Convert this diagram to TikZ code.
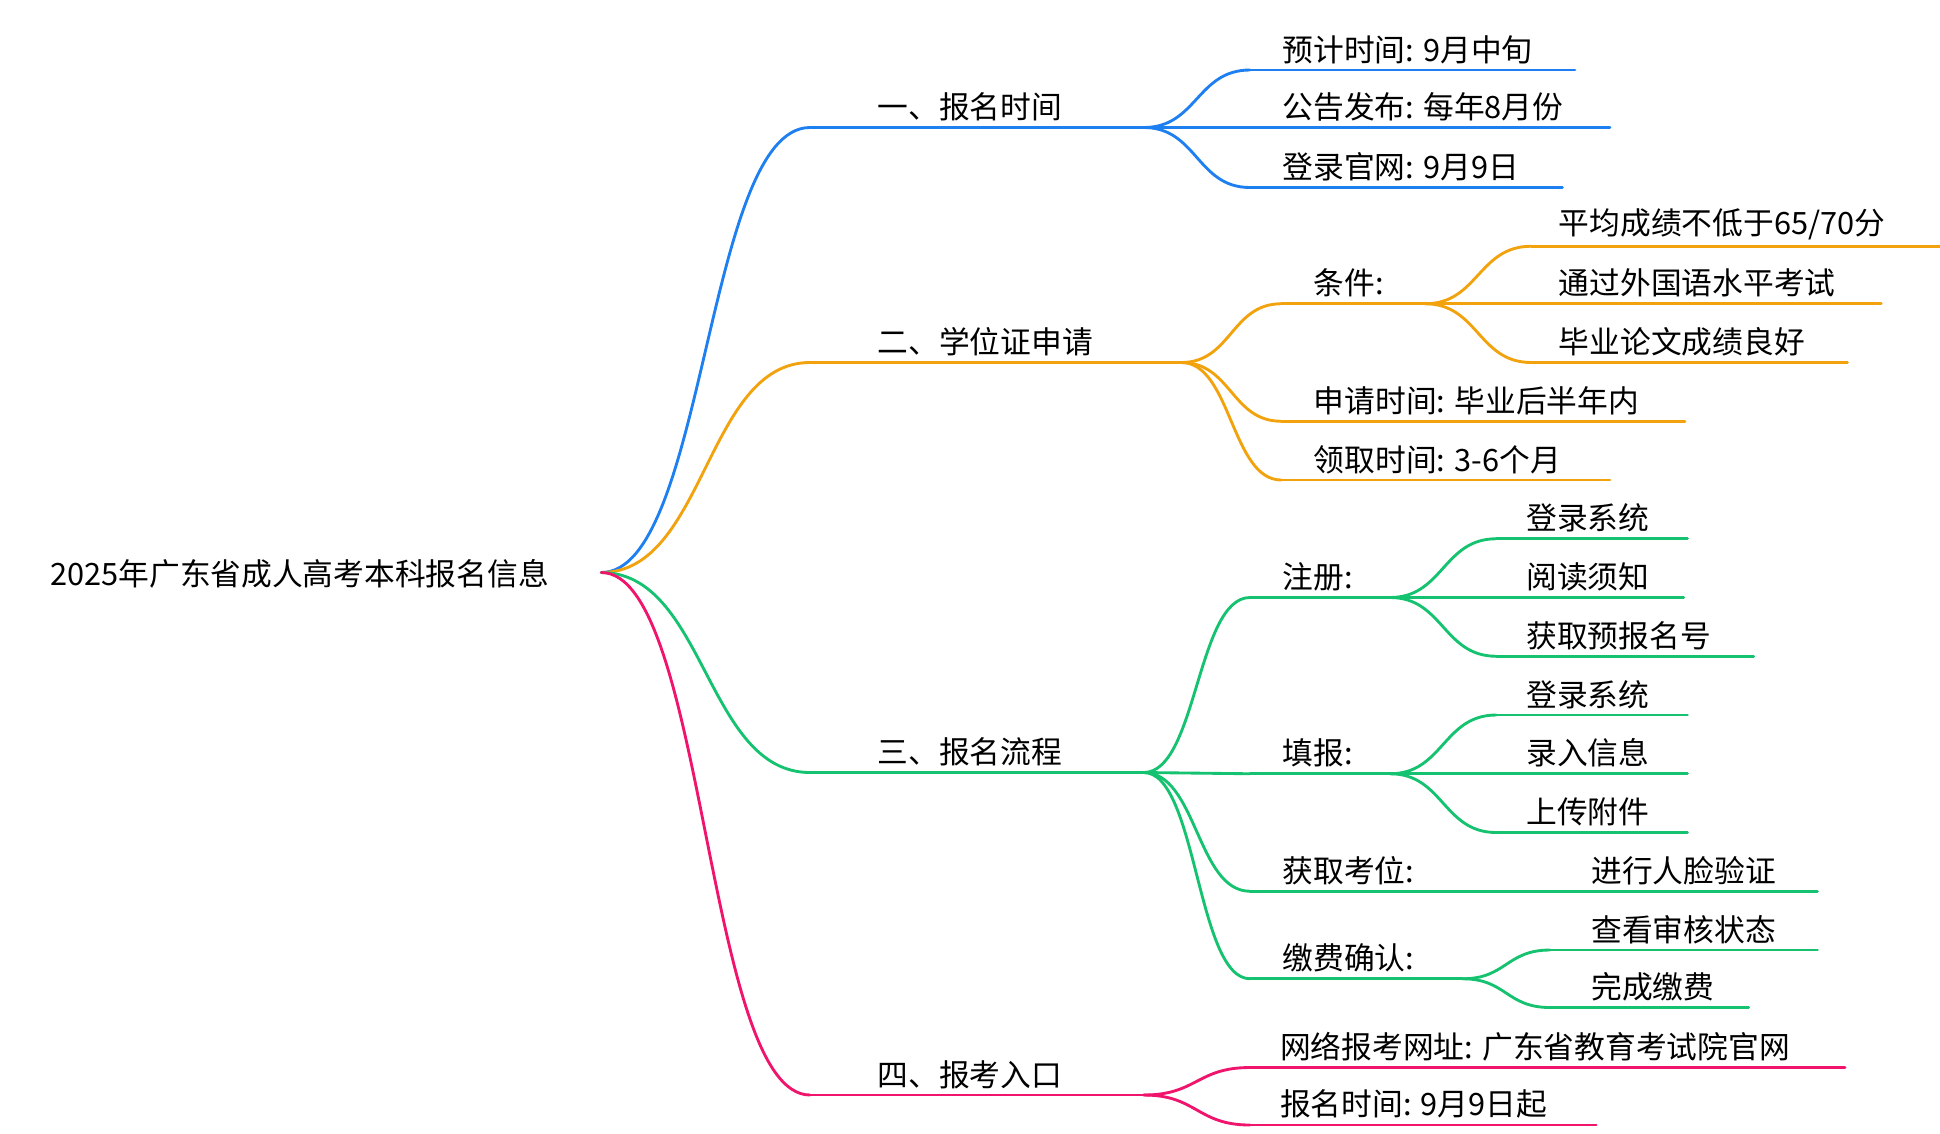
\documentclass[tikz,border=0pt]{standalone}
\usepackage{fontspec}
\setmainfont{Noto Sans CJK SC}
\usetikzlibrary{calc}
\definecolor{cblue}{HTML}{1E80F0}
\definecolor{corange}{HTML}{F2A20C}
\definecolor{cgreen}{HTML}{14C270}
\definecolor{cpink}{HTML}{F0146C}
% S-shaped connector with both controls at the horizontal middle
\newcommand\conn[3]{\draw[#1] let \p1=(#2), \p2=(#3) in
  (#2) .. controls ({0.5*\x1+0.5*\x2},\y1) and ({0.5*\x1+0.5*\x2},\y2) .. (#3);}
\tikzset{
  lbl/.style={anchor=south west, inner sep=1pt, font=\fontsize{14}{16}\selectfont},
  wire/.style={line width=1.3pt, line cap=round},
}

\begin{document}
\begin{tikzpicture}[x=0.02cm, y=-0.02cm]
		\useasboundingbox (0,0) rectangle (1552,907);
		
		\node[anchor=west, font=\fontsize{14}{16}\selectfont] (root) at (34,459) {2025年广东省成人高考本科报名信息};
		\coordinate (r) at (481,458);
		
		% branch one
		\coordinate (b1) at (648,102); \coordinate (b1e) at (915,102);
		\node[lbl] (t1) at (700,99) {一、报名时间};
		\conn{wire,cblue}{r}{b1}
		\draw[wire,cblue] (b1) -- (b1e);
		\foreach \y/\e/\txt [count=\i] in {56/1260/预计时间: 9月中旬, 102/1288/公告发布: 每年8月份, 150/1250/登录官网: 9月9日}{
			\coordinate (c1\i) at (1000,\y);
			\node[lbl] (t1\i) at (1024,\y-3) {\txt};
			\conn{wire,cblue}{b1e}{c1\i}
			\draw[wire,cblue] (c1\i) -- (\e,\y);
		}
		
		% branch two
		\coordinate (b2) at (648,290); \coordinate (b2e) at (945,290);
		\node[lbl] (t2) at (700,287) {二、学位证申请};
		\conn{wire,corange}{r}{b2}
		\draw[wire,corange] (b2) -- (b2e);
		\coordinate (c21) at (1025,243); \coordinate (c21e) at (1140,243);
		\node[lbl] (t21) at (1049,240) {条件:};
		\conn{wire,corange}{b2e}{c21}
		\draw[wire,corange] (c21) -- (c21e);
		\foreach \y/\e/\txt [count=\i] in {197/1552/{平均成绩不低于65/70分}, 243/1505/通过外国语水平考试, 290/1478/毕业论文成绩良好}{
			\coordinate (d2\i) at (1225,\y);
			\node[lbl] (u2\i) at (1245,\y-3) {\txt};
			\conn{wire,corange}{c21e}{d2\i}
			\draw[wire,corange] (d2\i) -- (\e,\y);
		}
		\foreach \y/\e/\txt [count=\i from 2] in {337/1348/申请时间: 毕业后半年内, 384/1288/领取时间: 3-6个月}{
			\coordinate (c2\i) at (1025,\y);
			\node[lbl] (t2\i) at (1049,\y-3) {\txt};
			\conn{wire,corange}{b2e}{c2\i}
			\draw[wire,corange] (c2\i) -- (\e,\y);
		}
		
		% branch three
		\coordinate (b3) at (648,618); \coordinate (b3e) at (915,618);
		\node[lbl] (t3) at (700,615) {三、报名流程};
		\conn{wire,cgreen}{r}{b3}
		\draw[wire,cgreen] (b3) -- (b3e);
		\foreach \y/\txt [count=\i] in {478/注册:, 619/填报:}{
			\coordinate (c3\i) at (1000,\y); \coordinate (c3\i e) at (1112,\y);
			\node[lbl] (t3\i) at (1024,\y-3) {\txt};
			\conn{wire,cgreen}{b3e}{c3\i}
			\draw[wire,cgreen] (c3\i) -- (c3\i e);
		}
		\foreach \y/\e/\txt [count=\i] in {431/1350/登录系统, 478/1347/阅读须知, 525/1403/获取预报名号}{
			\coordinate (d31\i) at (1197,\y);
			\node[lbl] (u31\i) at (1219,\y-3) {\txt};
			\conn{wire,cgreen}{c31e}{d31\i}
			\draw[wire,cgreen] (d31\i) -- (\e,\y);
		}
		\foreach \y/\e/\txt [count=\i] in {572/1350/登录系统, 619/1350/录入信息, 666/1350/上传附件}{
			\coordinate (d32\i) at (1197,\y);
			\node[lbl] (u32\i) at (1219,\y-3) {\txt};
			\conn{wire,cgreen}{c32e}{d32\i}
			\draw[wire,cgreen] (d32\i) -- (\e,\y);
		}
		\coordinate (c33) at (1000,713); \coordinate (c33e) at (1170,713);
		\node[lbl] (t33) at (1024,710) {获取考位:};
		\conn{wire,cgreen}{b3e}{c33}
		\draw[wire,cgreen] (c33) -- (c33e) -- (1454,713);
		\node[lbl] (u331) at (1271,710) {进行人脸验证};
		\coordinate (c34) at (1000,783); \coordinate (c34e) at (1170,783);
		\node[lbl] (t34) at (1024,780) {缴费确认:};
		\conn{wire,cgreen}{b3e}{c34}
		\draw[wire,cgreen] (c34) -- (c34e);
		\foreach \y/\e/\txt [count=\i] in {760/1454/查看审核状态, 806/1399/完成缴费}{
			\coordinate (d34\i) at (1240,\y);
			\node[lbl] (u34\i) at (1271,\y-3) {\txt};
			\conn{wire,cgreen}{c34e}{d34\i}
			\draw[wire,cgreen] (d34\i) -- (\e,\y);
		}
		
		% branch four
		\coordinate (b4) at (648,876); \coordinate (b4e) at (915,876);
		\node[lbl] (t4) at (700,873) {四、报考入口};
		\conn{wire,cpink}{r}{b4}
		\draw[wire,cpink] (b4) -- (b4e);
		\foreach \y/\e/\txt [count=\i] in {854/1476/网络报考网址: 广东省教育考试院官网, 900/1277/报名时间: 9月9日起}{
			\coordinate (c4\i) at (1000,\y);
			\node[lbl] (t4\i) at (1022,\y-3) {\txt};
			\conn{wire,cpink}{b4e}{c4\i}
			\draw[wire,cpink] (c4\i) -- (\e,\y);
		}
	\end{tikzpicture}
\end{document}
